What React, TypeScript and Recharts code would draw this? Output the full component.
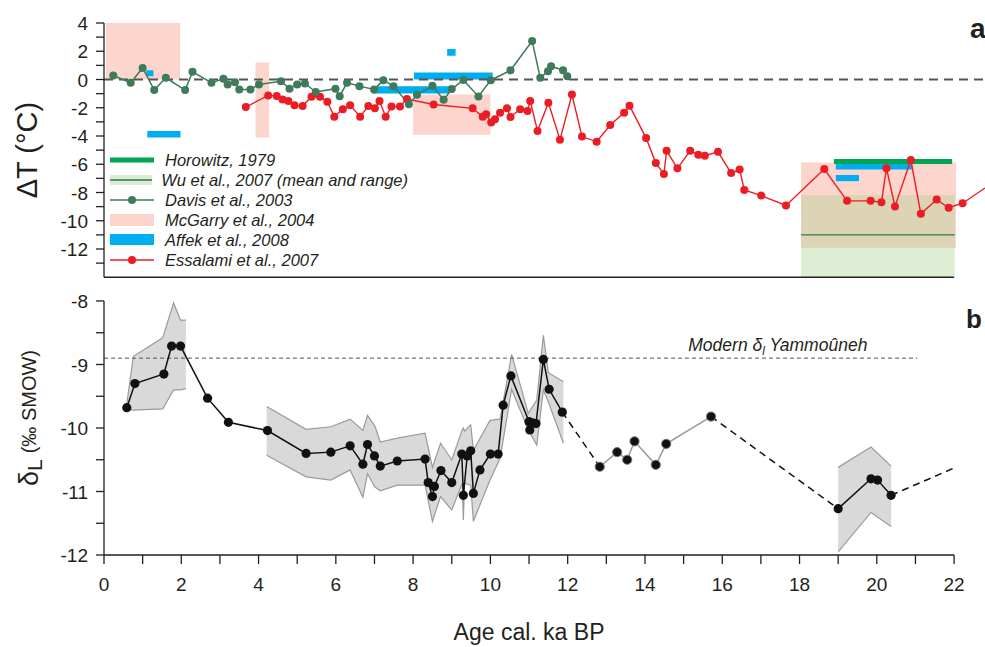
import React from "react";
import {
  ComposedChart,
  Line,
  Area,
  XAxis,
  YAxis,
  ReferenceArea,
  ReferenceLine,
  Legend,
} from "recharts";

const FONT = '"Liberation Sans", Arial, Helvetica, sans-serif';
const INK = "#231f20";
const DAVIS = "#3f7a5a";
const ESSALAMI = "#ec1c24";
const MCGARRY = "#fcd5cc";
const AFFEK = "#00aeef";
const HOROWITZ = "#00a651";
const WU_FILL = "#a9d18e";
const WU_LINE = "#2f7d4a";
const BAND = "#d9d9d9";
const BAND_EDGE = "#9b9b9b";

const X_MAX = 22.8;
const ageTicks = [0, 1, 2, 3, 4, 5, 6, 7, 8, 9, 10, 11, 12, 13, 14, 15, 16, 17, 18, 19, 20, 21, 22];
const dtTicks = [-13, -12, -11, -10, -9, -8, -7, -6, -5, -4, -3, -2, -1, 0, 1, 2, 3, 4];
const deltaTicks = [-12, -11.5, -11, -10.5, -10, -9.5, -9, -8.5, -8];

// panel a: temperature anomaly records (ka BP, deg C)
const davisAge = [0.24, 0.69, 1.0, 1.3, 1.6, 2.1, 2.29, 2.78, 3.09, 3.2, 3.39, 3.5, 3.79, 4.01, 4.58, 4.8, 5.0, 5.2, 5.48, 5.99, 6.1, 6.29, 6.61, 6.99, 7.23, 7.49, 7.89, 8.1, 8.5, 8.79, 9.0, 9.3, 9.69, 10.01, 10.52, 11.08, 11.29, 11.49, 11.57, 11.88, 11.99];
const davisDT = [0.28, -0.23, 0.82, -0.75, 0.12, -0.75, 0.54, -0.23, 0.05, -0.35, -0.19, -0.7, -0.7, -0.35, -0.12, -0.65, -0.35, -0.28, -0.89, -0.65, -1.18, -0.23, -0.47, -0.7, -0.05, -0.47, -1.76, -1.08, -0.45, -1.44, -0.68, -0.03, -1.2, -0.05, 0.65, 2.72, 0.12, 0.59, 0.94, 0.66, 0.23];

const essalamiAge = [3.67, 4.25, 4.47, 4.62, 4.77, 4.93, 5.14, 5.37, 5.59, 5.78, 5.96, 6.18, 6.37, 6.63, 6.84, 7.01, 7.13, 7.29, 7.44, 7.66, 7.84, 8.53, 9.54, 9.8, 9.89, 10.02, 10.12, 10.25, 10.43, 10.52, 10.77, 10.96, 11.03, 11.22, 11.5, 11.8, 12.11, 12.37, 12.75, 13.1, 13.46, 13.6, 14.03, 14.28, 14.49, 14.56, 14.84, 15.17, 15.38, 15.55, 15.89, 16.23, 16.45, 16.57, 17.01, 17.65, 18.64, 19.23, 19.84, 20.12, 20.25, 20.47, 20.88, 21.14, 21.55, 21.86, 22.22, 22.8];
const essalamiDT = [-1.95, -1.13, -1.17, -1.41, -1.53, -1.83, -1.88, -1.22, -1.22, -1.57, -2.63, -2.11, -1.83, -2.63, -1.88, -2.04, -1.53, -2.63, -1.92, -1.92, -1.38, -1.77, -2.04, -2.63, -2.46, -3.05, -2.82, -2.35, -2.04, -2.65, -2.11, -2.23, -1.53, -3.64, -1.64, -4.27, -1.06, -4.04, -4.41, -3.22, -2.35, -1.85, -4.15, -5.92, -6.69, -5.05, -6.29, -5.05, -5.33, -5.4, -5.12, -6.62, -6.38, -7.82, -8.22, -8.92, -6.34, -8.59, -8.59, -8.69, -6.29, -8.99, -5.7, -9.51, -8.5, -9.08, -8.76, -7.68];

// [from ka, to ka, low, high]
const mcgarryBoxes = [
  [0.05, 1.97, 0, 4],
  [3.92, 4.27, -4.1, 1.2],
  [8.0, 10.0, -3.92, -1.06],
  [18.04, 22.05, -11.92, -5.87],
];
const affekBars = [
  [1.09, 1.28, 0.23, 0.65],
  [1.12, 1.98, -4.1, -3.64],
  [8.88, 9.1, 1.69, 2.16],
  [8.02, 10.06, 0, 0.5],
  [6.95, 8.95, -0.99, -0.47],
  [18.94, 20.91, -6.38, -5.92],
  [18.94, 19.54, -7.2, -6.76],
];
const wuRange = [18.04, 22.02, -14, -8.17];
const wuMean = -11.0;
const horowitzSpan = [18.89, 21.95];
const horowitzDT = -5.8;

const legendLabels = [
  "Horowitz, 1979",
  "Wu et al., 2007 (mean and range)",
  "Davis et al., 2003",
  "McGarry et al., 2004",
  "Affek et al., 2008",
  "Essalami et al., 2007",
];

// panel b: lake water delta-18O (permil SMOW)
const holoceneAge = [0.59, 0.8, 1.55, 1.75, 1.98, 2.68, 3.22, 4.23, 5.23, 5.87, 6.37, 6.7, 6.82, 7.0, 7.15, 7.59, 8.31, 8.39, 8.5, 8.55, 8.72, 9.0, 9.26, 9.3, 9.4, 9.49, 9.56, 9.73, 10.0, 10.2, 10.33, 10.53, 11.0, 11.02, 11.09, 11.18, 11.37, 11.52, 11.86];
const holoceneDelta = [-9.68, -9.3, -9.15, -8.71, -8.71, -9.53, -9.91, -10.04, -10.4, -10.38, -10.28, -10.57, -10.26, -10.44, -10.6, -10.52, -10.49, -10.86, -11.08, -10.92, -10.67, -10.86, -10.41, -11.06, -10.44, -10.36, -11.03, -10.66, -10.41, -10.41, -9.64, -9.18, -9.9, -10.03, -9.92, -9.93, -8.92, -9.39, -9.75];
const lateGlacialAge = [12.83, 13.28, 13.54, 13.73, 14.28, 14.55, 15.71];
const lateGlacialDelta = [-10.61, -10.38, -10.5, -10.21, -10.58, -10.25, -9.82];
const lgmAge = [19.0, 19.85, 20.02, 20.37];
const lgmDelta = [-11.27, -10.8, -10.82, -11.06];
const openEnd = { age: 22.0, d: -10.63 };
const modernDelta = -8.9;
const modernUntil = 21.05;

const band1Age = [0.59, 0.76, 1.52, 1.8, 1.98, 2.12];
const band1Low = [-9.7, -9.72, -9.7, -9.4, -9.4, -9.38];
const band1High = [-9.62, -8.87, -8.58, -8.03, -8.3, -8.3];
const band2Age = [4.21, 5.23, 5.87, 6.37, 6.7, 6.82, 7.01, 7.15, 7.59, 8.31, 8.5, 8.71, 9.0, 9.27, 9.3, 9.33, 9.49, 9.56, 9.99, 10.25, 10.55, 10.98, 11.2, 11.37, 11.5, 11.89];
const band2Low = [-10.43, -10.77, -10.82, -10.66, -11.09, -10.72, -10.93, -10.99, -10.9, -10.9, -11.47, -11.08, -11.29, -10.87, -11.45, -10.87, -10.9, -11.47, -10.82, -10.48, -9.39, -10.03, -10.27, -9.4, -9.59, -10.24];
const band2High = [-9.66, -10.02, -9.98, -9.86, -10.04, -9.8, -9.97, -10.22, -10.16, -10.08, -10.62, -10.24, -10.5, -10.03, -10.0, -10.05, -9.95, -10.35, -9.88, -9.86, -8.84, -9.77, -9.56, -8.54, -9.13, -9.27];
const band3Age = [19.0, 19.85, 20.37];
const band3Low = [-11.95, -11.33, -11.55];
const band3High = [-10.62, -10.3, -10.6];

const pairs = (ages: number[], vals: number[], key: string) =>
  ages.map((age, i) => ({ age, [key]: vals[i] }));
const band = (ages: number[], lo: number[], hi: number[]) =>
  ages.map((age, i) => ({ age, range: [lo[i], hi[i]] }));

const davisData = pairs(davisAge, davisDT, "dt");
const essalamiData = pairs(essalamiAge, essalamiDT, "dt");
const holoceneData = pairs(holoceneAge, holoceneDelta, "d");
const lateGlacialData = pairs(lateGlacialAge, lateGlacialDelta, "d");
const lgmData = pairs(lgmAge, lgmDelta, "d");
const gapA = [holoceneData[holoceneData.length - 1], lateGlacialData[0]];
const gapB = [lateGlacialData[lateGlacialData.length - 1], lgmData[0]];
const gapC = [lgmData[lgmData.length - 1], openEnd];

const axisText = { fontFamily: FONT, fontSize: 19, fill: INK };

const DtTick = (p: any) => {
  const v = p.payload.value;
  if (v % 2 !== 0 || v < -12) return <g />;
  return (
    <text x={p.x} y={p.y} dx={-6} dy={7} textAnchor="end" {...axisText}>
      {v}
    </text>
  );
};

const DeltaTick = (p: any) => {
  const v = p.payload.value;
  if (!Number.isInteger(v)) return <g />;
  return (
    <text x={p.x} y={p.y} dx={-6} dy={7} textAnchor="end" {...axisText}>
      {v}
    </text>
  );
};

const AgeTick = (p: any) => {
  const v = p.payload.value;
  if (v % 2 !== 0) return <g />;
  return (
    <text x={p.x} y={p.y} dy={25} textAnchor="middle" {...axisText}>
      {v}
    </text>
  );
};

const essalamiDot = (p: any) => {
  const { cx, cy, payload, index } = p;
  if (cx == null || payload.age > 22.5) return <g key={`ed${index}`} />;
  return <circle key={`ed${index}`} cx={cx} cy={cy} r={4} fill={ESSALAMI} />;
};

function LegendBox() {
  const row = (i: number, icon: React.ReactNode) => (
    <div key={i} style={{ display: "flex", alignItems: "center", height: 20 }}>
      <svg width={48} height={16} style={{ marginRight: 9 }}>
        {icon}
      </svg>
      <span style={{ fontStyle: "italic", fontSize: 16.5, color: INK, whiteSpace: "nowrap" }}>
        {legendLabels[i]}
      </span>
    </div>
  );
  return (
    <div style={{ fontFamily: FONT, lineHeight: 1 }}>
      {row(0, <line x1={2} x2={46} y1={8} y2={8} stroke={HOROWITZ} strokeWidth={5} />)}
      {row(
        1,
        <g>
          <rect x={2} y={3} width={44} height={10} fill={WU_FILL} fillOpacity={0.4} />
          <line x1={2} x2={46} y1={8} y2={8} stroke={WU_LINE} strokeWidth={1.3} />
        </g>
      )}
      {row(
        2,
        <g>
          <line x1={2} x2={46} y1={8} y2={8} stroke={DAVIS} strokeWidth={1.3} />
          <circle cx={24} cy={8} r={4} fill={DAVIS} />
        </g>
      )}
      {row(3, <rect x={2} y={2} width={44} height={12} fill={MCGARRY} />)}
      {row(4, <rect x={2} y={2} width={44} height={11} fill={AFFEK} />)}
      {row(
        5,
        <g>
          <line x1={2} x2={46} y1={8} y2={8} stroke={ESSALAMI} strokeWidth={1.3} />
          <circle cx={24} cy={8} r={4} fill={ESSALAMI} />
        </g>
      )}
    </div>
  );
}

function TopPanel() {
  return (
    <div style={{ position: "absolute", left: 0, top: 0 }}>
      <ComposedChart width={985} height={300} margin={{ top: 23, right: 0, bottom: 12.75, left: 0 }}>
        <XAxis
          type="number"
          dataKey="age"
          domain={[0, X_MAX]}
          ticks={ageTicks}
          interval={0}
          tick={false}
          tickSize={9}
          tickLine={{ stroke: INK, strokeWidth: 1.3 }}
          axisLine={false}
          height={10}
        />
        <YAxis
          type="number"
          domain={[-14, 4]}
          ticks={dtTicks}
          interval={0}
          width={104}
          tickSize={8}
          tick={DtTick}
          tickLine={{ stroke: INK, strokeWidth: 1.3 }}
          axisLine={{ stroke: INK, strokeWidth: 1.3 }}
          label={(p: any) => {
            const vb = p.viewBox || { x: 0, y: 23, height: 254 };
            const cx = 27;
            const cy = vb.y + vb.height / 2;
            return (
              <text
                x={cx}
                y={cy}
                transform={`rotate(-90 ${cx} ${cy})`}
                textAnchor="middle"
                dominantBaseline="central"
                fontFamily={FONT}
                fontSize={29}
                fill={INK}
              >
                ΔT (°C)
              </text>
            );
          }}
        />
        {mcgarryBoxes.map((b, i) => (
          <ReferenceArea key={`m${i}`} x1={b[0]} x2={b[1]} y1={b[2]} y2={b[3]} fill={MCGARRY} fillOpacity={1} stroke="none" ifOverflow="visible" />
        ))}
        <ReferenceArea x1={wuRange[0]} x2={wuRange[1]} y1={wuRange[2]} y2={wuRange[3]} fill={WU_FILL} fillOpacity={0.38} stroke="none" ifOverflow="visible" />
        <ReferenceLine segment={[{ x: wuRange[0], y: wuMean }, { x: wuRange[1], y: wuMean }]} stroke={WU_LINE} strokeWidth={1.3} />
        {affekBars.map((b, i) => (
          <ReferenceArea key={`a${i}`} x1={b[0]} x2={b[1]} y1={b[2]} y2={b[3]} fill={AFFEK} fillOpacity={1} stroke="none" ifOverflow="visible" />
        ))}
        <ReferenceLine y={0} stroke="#555" strokeWidth={2} strokeDasharray="9 6" />
        <ReferenceLine segment={[{ x: 0, y: -14 }, { x: 22, y: -14 }]} stroke={INK} strokeWidth={1.3} />
        <Line
          data={essalamiData}
          dataKey="dt"
          type="linear"
          stroke={ESSALAMI}
          strokeWidth={1.4}
          dot={essalamiDot}
          activeDot={false}
          isAnimationActive={false}
        />
        <Line
          data={davisData}
          dataKey="dt"
          type="linear"
          stroke={DAVIS}
          strokeWidth={1.5}
          dot={{ r: 4, fill: DAVIS, stroke: "none" }}
          activeDot={false}
          isAnimationActive={false}
        />
        <ReferenceLine
          segment={[{ x: horowitzSpan[0], y: horowitzDT }, { x: horowitzSpan[1], y: horowitzDT }]}
          stroke={HOROWITZ}
          strokeWidth={5}
        />
        <Legend
          layout="vertical"
          align="center"
          verticalAlign="middle"
          content={() => <LegendBox />}
          wrapperStyle={{ left: 108, top: 150, width: 300, height: 120 }}
        />
      </ComposedChart>
    </div>
  );
}

function BottomPanel() {
  return (
    <div style={{ position: "absolute", left: 0, top: 290 }}>
      <ComposedChart width={985} height={357} margin={{ top: 11, right: 0, bottom: 12, left: 0 }}>
        <XAxis
          type="number"
          dataKey="age"
          domain={[0, X_MAX]}
          ticks={ageTicks}
          interval={0}
          tick={AgeTick}
          tickSize={9}
          tickLine={{ stroke: INK, strokeWidth: 1.3 }}
          axisLine={false}
          height={80}
          label={(p: any) => {
            const vb = p.viewBox || { x: 104, y: 265, width: 881 };
            return (
              <text
                x={vb.x + (vb.width * 11) / X_MAX}
                y={vb.y + 85}
                textAnchor="middle"
                fontFamily={FONT}
                fontSize={23}
                fill={INK}
              >
                Age cal. ka BP
              </text>
            );
          }}
        />
        <YAxis
          type="number"
          domain={[-12, -8]}
          ticks={deltaTicks}
          interval={0}
          width={104}
          tickSize={8}
          tick={DeltaTick}
          tickLine={{ stroke: INK, strokeWidth: 1.3 }}
          axisLine={{ stroke: INK, strokeWidth: 1.3 }}
          label={(p: any) => {
            const vb = p.viewBox || { x: 0, y: 11, height: 254 };
            const cx = 29;
            const cy = vb.y + vb.height / 2 - 10;
            return (
              <text
                x={cx}
                y={cy}
                transform={`rotate(-90 ${cx} ${cy})`}
                textAnchor="middle"
                dominantBaseline="central"
                fontFamily={FONT}
                fill={INK}
              >
                <tspan fontSize={27}>δ</tspan>
                <tspan fontSize={21} dy={5}>L</tspan>
                <tspan fontSize={20} dy={-5} dx={6}>(‰ SMOW)</tspan>
              </text>
            );
          }}
        />
        <Area data={band(band1Age, band1Low, band1High)} dataKey="range" type="linear" fill={BAND} fillOpacity={1} stroke={BAND_EDGE} strokeWidth={1.2} dot={false} activeDot={false} isAnimationActive={false} />
        <Area data={band(band2Age, band2Low, band2High)} dataKey="range" type="linear" fill={BAND} fillOpacity={1} stroke={BAND_EDGE} strokeWidth={1.2} dot={false} activeDot={false} isAnimationActive={false} />
        <Area data={band(band3Age, band3Low, band3High)} dataKey="range" type="linear" fill={BAND} fillOpacity={1} stroke={BAND_EDGE} strokeWidth={1.2} dot={false} activeDot={false} isAnimationActive={false} />
        <ReferenceLine
          segment={[{ x: 0, y: modernDelta }, { x: modernUntil, y: modernDelta }]}
          stroke="#555"
          strokeWidth={1}
          strokeDasharray="4 3"
          label={(p: any) => {
            const vb = p.viewBox || { x: 104, y: 358, width: 813 };
            return (
              <text x={vb.x + vb.width - 50} y={vb.y - 7} textAnchor="end" fontFamily={FONT} fontSize={17.5} fontStyle="italic" fill={INK}>
                Modern δ<tspan fontSize={12} dy={4}>l</tspan>
                <tspan dy={-4}> Yammoûneh</tspan>
              </text>
            );
          }}
        />
        <ReferenceLine segment={[{ x: 0, y: -12 }, { x: 22, y: -12 }]} stroke={INK} strokeWidth={1.3} />
        <Line data={gapA} dataKey="d" type="linear" stroke="#111" strokeWidth={1.5} strokeDasharray="7 5" dot={false} activeDot={false} isAnimationActive={false} />
        <Line data={gapB} dataKey="d" type="linear" stroke="#111" strokeWidth={1.5} strokeDasharray="7 5" dot={false} activeDot={false} isAnimationActive={false} />
        <Line data={gapC} dataKey="d" type="linear" stroke="#111" strokeWidth={1.5} strokeDasharray="7 5" dot={false} activeDot={false} isAnimationActive={false} />
        <Line data={holoceneData} dataKey="d" type="linear" stroke="#111" strokeWidth={1.5} dot={{ r: 4.6, fill: "#111", stroke: "none" }} activeDot={false} isAnimationActive={false} />
        <Line data={lateGlacialData} dataKey="d" type="linear" stroke="#999" strokeWidth={1.5} dot={{ r: 4.6, fill: "#111", stroke: "#777", strokeWidth: 1 }} activeDot={false} isAnimationActive={false} />
        <Line data={lgmData} dataKey="d" type="linear" stroke="#111" strokeWidth={1.5} dot={{ r: 4.6, fill: "#111", stroke: "none" }} activeDot={false} isAnimationActive={false} />
      </ComposedChart>
    </div>
  );
}

export default function App() {
  return (
    <div style={{ position: "relative", width: 985, height: 647, background: "#fff", overflow: "hidden", fontFamily: FONT }}>
      <style>{"body{margin:0}"}</style>
      <TopPanel />
      <BottomPanel />
      <svg width={985} height={647} style={{ position: "absolute", left: 0, top: 0, pointerEvents: "none" }}>
        <text x={970} y={38} fontFamily={FONT} fontSize={28} fontWeight={700} fill={INK}>
          a
        </text>
        <text x={966} y={328} fontFamily={FONT} fontSize={26} fontWeight={700} fill={INK}>
          b
        </text>
      </svg>
    </div>
  );
}
